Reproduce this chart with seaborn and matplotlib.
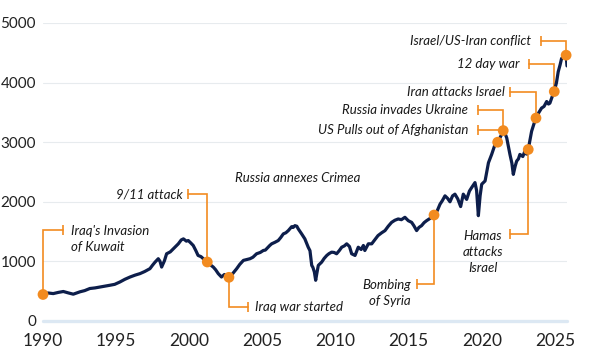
import matplotlib
matplotlib.use('Agg')
import matplotlib.pyplot as plt
import pandas as pd
import seaborn as sns

# index level (decimal year, value)
years = [
    1990.00, 1990.35, 1990.70, 1991.05, 1991.39, 1991.75, 1992.07, 1992.35, 1992.53, 1992.85,
    1993.20, 1993.55, 1993.90, 1994.25, 1994.58, 1994.90, 1995.26, 1995.60, 1995.95, 1996.30,
    1996.63, 1996.95, 1997.31, 1997.50, 1997.66, 1997.88, 1998.00, 1998.11, 1998.30, 1998.45,
    1998.70, 1998.90, 1999.10, 1999.25, 1999.45, 1999.60, 1999.80, 1999.93, 2000.10, 2000.27,
    2000.45, 2000.60, 2000.80, 2000.96, 2001.10, 2001.23, 2001.40, 2001.64, 2001.80, 2001.98,
    2002.20, 2002.40, 2002.55, 2002.71, 2002.95, 2003.24, 2003.45, 2003.70, 2003.90, 2004.15,
    2004.35, 2004.60, 2004.85, 2005.06, 2005.20, 2005.50, 2005.63, 2005.85, 2006.08, 2006.25,
    2006.43, 2006.60, 2006.77, 2007.00, 2007.10, 2007.22, 2007.35, 2007.45, 2007.68, 2007.90,
    2008.13, 2008.25, 2008.37, 2008.45, 2008.55, 2008.64, 2008.72, 2008.82, 2009.05, 2009.22,
    2009.40, 2009.55, 2009.73, 2009.90, 2010.07, 2010.25, 2010.42, 2010.60, 2010.76, 2010.95,
    2011.10, 2011.33, 2011.55, 2011.75, 2011.90, 2012.00, 2012.24, 2012.47, 2012.70, 2012.90,
    2013.15, 2013.38, 2013.60, 2013.83, 2014.05, 2014.28, 2014.50, 2014.74, 2014.97, 2015.20,
    2015.35, 2015.54, 2015.70, 2015.88, 2016.05, 2016.22, 2016.45, 2016.73, 2016.95, 2017.14,
    2017.30, 2017.48, 2017.65, 2017.82, 2018.00, 2018.16, 2018.35, 2018.55, 2018.73, 2018.96,
    2019.15, 2019.30, 2019.53, 2019.64, 2019.76, 2019.88, 2019.99, 2020.22, 2020.45, 2020.67,
    2020.90, 2021.08, 2021.35, 2021.46, 2021.58, 2021.70, 2021.92, 2022.05, 2022.15, 2022.28,
    2022.38, 2022.50, 2022.60, 2022.80, 2022.94, 2023.05, 2023.17, 2023.40, 2023.55, 2023.70,
    2023.90, 2024.08, 2024.25, 2024.43, 2024.55, 2024.65, 2024.80, 2024.95, 2025.10, 2025.22,
    2025.35, 2025.45, 2025.58, 2025.70, 2025.76, 2025.82,
]
values = [
    445, 470, 460, 480, 495, 470, 450, 475, 490, 510,
    545, 555, 570, 585, 600, 615, 655, 700, 738, 770,
    795, 830, 878, 940, 988, 1045, 1000, 905, 1010, 1128,
    1160, 1210, 1260, 1295, 1360, 1378, 1340, 1350, 1310, 1267,
    1180, 1100, 1080, 1045, 1010, 990, 950, 905, 860, 795,
    738, 780, 760, 733, 790, 878, 950, 1017, 1030, 1045,
    1070, 1128, 1150, 1183, 1190, 1267, 1295, 1320, 1350, 1400,
    1462, 1480, 1517, 1583, 1570, 1600, 1590, 1545, 1462, 1378,
    1238, 1180, 933, 900, 822, 683, 800, 933, 988, 1050,
    1100, 1130, 1155, 1150, 1128, 1180, 1238, 1260, 1295, 1250,
    1128, 1100, 1238, 1200, 1267, 1183, 1295, 1295, 1370, 1433,
    1480, 1517, 1590, 1655, 1690, 1712, 1700, 1740, 1683, 1655,
    1600, 1517, 1570, 1600, 1650, 1683, 1720, 1778, 1850, 1960,
    2020, 2100, 2060, 2000, 2100, 2128, 2050, 1920, 2128, 2040,
    2180, 2238, 2322, 2190, 1767, 2100, 2295, 2350, 2655, 2795,
    2962, 3000, 3128, 3195, 3150, 3072, 2795, 2650, 2460, 2600,
    2683, 2720, 2795, 2760, 2850, 2800, 2878, 3183, 3300, 3405,
    3500, 3572, 3600, 3683, 3640, 3655, 3760, 3850, 4000, 4183,
    4300, 4405, 4430, 4470, 4460, 4280,
]

# highlighted events (dot positions)
event_years = [1990.00, 2001.23, 2002.71, 2016.73, 2021.08, 2021.46, 2023.17, 2023.70, 2024.95, 2025.76]
event_values = [445, 990, 733, 1778, 3000, 3195, 2878, 3405, 3850, 4460]

x_ticks = [1990, 1995, 2000, 2005, 2010, 2015, 2020, 2025]
y_ticks = [0, 1000, 2000, 3000, 4000, 5000]

NAVY = '#0d1e4b'
ORANGE = '#f28b20'

# leader lines: path points (x, y) with a cap at the last point, then label
annotations = [
    ("Iraq's Invasion\nof Kuwait", [(1990.0, 445), (1990.0, 1528), (1991.35, 1528)], (1991.91, 1372), 'left'),
    ("9/11 attack", [(2001.23, 990), (2001.23, 2128), (1999.89, 2128)], (1999.55, 2128), 'right'),
    ("Iraq war started", [(2002.71, 733), (2002.71, 228), (2004.03, 228)], (2004.49, 228), 'left'),
    ("Bombing\nof Syria", [(2016.73, 1778), (2016.73, 628), (2015.54, 628)], (2015.12, 478), 'right'),
    ("Hamas\nattacks\nIsrael", [(2023.17, 2878), (2023.17, 1462), (2021.92, 1462)], (2020.07, 1158), 'center'),
    ("US Pulls out of Afghanistan", [(2021.46, 3212), (2019.75, 3212)], (2019.07, 3212), 'right'),
    ("Russia invades Ukraine", [(2021.46, 3195), (2021.46, 3545), (2019.75, 3545)], (2019.07, 3545), 'right'),
    ("Iran attacks Israel", [(2023.70, 3405), (2023.70, 3850), (2021.92, 3850)], (2021.58, 3850), 'right'),
    ("12 day war", [(2024.95, 3850), (2024.95, 4305), (2023.24, 4305)], (2022.60, 4305), 'right'),
    ("Israel/US-Iran conflict", [(2025.76, 4460), (2025.76, 4695), (2024.04, 4695)], (2023.34, 4695), 'right'),
]

sns.set_style('white')
plt.rcParams['font.family'] = ['Lato', 'DejaVu Sans']

df = pd.DataFrame({'year': years, 'value': values})
events = pd.DataFrame({'year': event_years, 'value': event_values})

fig = plt.figure(figsize=(6.0, 3.52), dpi=100)
ax = fig.add_axes([43 / 600, 1 - 321 / 352, (567 - 43) / 600, (321 - 23) / 352])

# grid
for yv in y_ticks[1:]:
    ax.axhline(yv, color='#e7ebee', lw=0.8, zorder=0)
ax.axhline(0, color='#dce8f3', lw=2.4, zorder=0, clip_on=False)

sns.lineplot(data=df, x='year', y='value', color=NAVY, linewidth=2.3,
             estimator=None, sort=False, ax=ax, zorder=3)

for text, path, (tx, ty), ha in annotations:
    xs = [p[0] for p in path]
    ys = [p[1] for p in path]
    ax.plot(xs, ys, color=ORANGE, lw=1.2, zorder=2, clip_on=False, solid_joinstyle='miter')
    ax.plot([xs[-1]], [ys[-1]], marker='|', markersize=7, markeredgewidth=1.2,
            color=ORANGE, zorder=2, clip_on=False)
    ax.text(tx, ty, text, ha='right' if ha == 'right' else ('left' if ha == 'left' else 'center'),
            va='center', multialignment=ha, fontsize=9.5, style='italic',
            color='#1a1a1a', linespacing=1.4)

ax.text(2007.43, 2392, 'Russia annexes Crimea', ha='center', va='center',
        fontsize=9.5, style='italic', color='#1a1a1a')

sns.scatterplot(data=events, x='year', y='value', color=ORANGE, s=60,
                edgecolor='none', zorder=4, clip_on=False, ax=ax, legend=False)

ax.set_xlim(1990, 2025.82)
ax.set_ylim(0, 5000)
ax.set_xticks(x_ticks)
ax.set_yticks(y_ticks)
ax.set_xticklabels([str(t) for t in x_ticks], fontsize=12.5, color='#222222')
ax.set_yticklabels([str(t) for t in y_ticks], fontsize=11, color='#222222')
ax.tick_params(axis='both', length=0)
ax.tick_params(axis='x', pad=9)
ax.tick_params(axis='y', pad=5)
ax.set_xlabel('')
ax.set_ylabel('')
sns.despine(ax=ax, left=True, bottom=True)

fig.savefig('out.png', dpi=100)
